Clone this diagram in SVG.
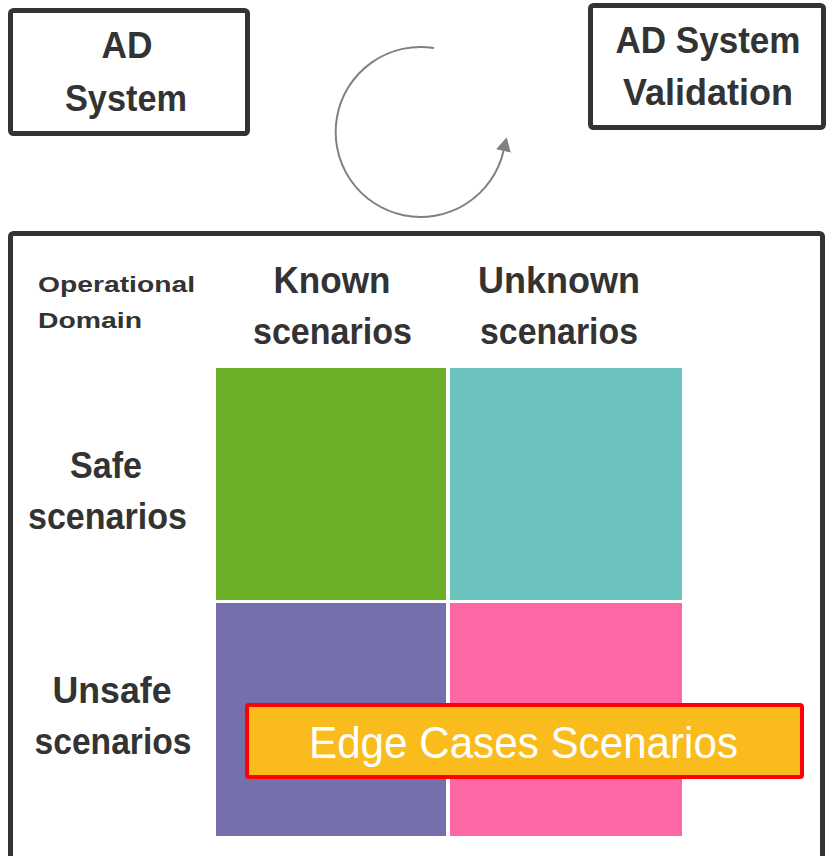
<svg xmlns="http://www.w3.org/2000/svg" width="826" height="856" viewBox="0 0 826 856">
  <style>
    .box { fill: #ffffff; stroke: #333333; stroke-width: 5; }
    .lbl { font-family: "Liberation Sans", Arial, sans-serif; font-weight: bold; fill: #333333; text-anchor: middle; }
    .big { font-size: 37px; }
    .small { font-size: 22px; text-anchor: start; }
    .edge { font-family: "Liberation Sans", Arial, sans-serif; font-size: 44px; fill: #ffffff; text-anchor: middle; }
  </style>
  <defs>
    <marker id="ah" markerUnits="userSpaceOnUse" markerWidth="16" markerHeight="16" refX="0" refY="7.5" orient="auto">
      <path d="M0,0 L14,7.5 L0,15 Z" fill="#808080"/>
    </marker>
  </defs>

  <g id="ad-system">
    <rect class="box" x="10.5" y="10.5" width="237" height="123" rx="3"/>
    <text class="lbl big" x="127" y="58" textLength="51" lengthAdjust="spacingAndGlyphs">AD</text>
    <text class="lbl big" x="126" y="111" textLength="122" lengthAdjust="spacingAndGlyphs">System</text>
  </g>

  <g id="ad-system-validation">
    <rect class="box" x="590.5" y="5.5" width="233" height="122" rx="3"/>
    <text class="lbl big" x="708" y="53" textLength="185" lengthAdjust="spacingAndGlyphs">AD System</text>
    <text class="lbl big" x="708" y="105" textLength="170" lengthAdjust="spacingAndGlyphs">Validation</text>
  </g>

  <g id="connectors">
    <path d="M434,48 A85,85 0 1 0 503.5,151" fill="none" stroke="#808080" stroke-width="2" marker-end="url(#ah)"/>
  </g>

  <g id="operational-domain">
    <rect class="box" x="10.5" y="233.5" width="812" height="700" rx="3"/>
    <text class="lbl small" x="38" y="292" textLength="157" lengthAdjust="spacingAndGlyphs">Operational</text>
    <text class="lbl small" x="38" y="328" textLength="104" lengthAdjust="spacingAndGlyphs">Domain</text>
  </g>

  <g id="col-known">
    <text class="lbl big" x="332" y="293" textLength="117" lengthAdjust="spacingAndGlyphs">Known</text>
    <text class="lbl big" x="332.5" y="344" textLength="159" lengthAdjust="spacingAndGlyphs">scenarios</text>
  </g>
  <g id="col-unknown">
    <text class="lbl big" x="559" y="293" textLength="162" lengthAdjust="spacingAndGlyphs">Unknown</text>
    <text class="lbl big" x="559" y="344" textLength="158" lengthAdjust="spacingAndGlyphs">scenarios</text>
  </g>
  <g id="row-safe">
    <text class="lbl big" x="106" y="478" textLength="72" lengthAdjust="spacingAndGlyphs">Safe</text>
    <text class="lbl big" x="107.5" y="529" textLength="159" lengthAdjust="spacingAndGlyphs">scenarios</text>
  </g>
  <g id="row-unsafe">
    <text class="lbl big" x="112" y="703" textLength="119" lengthAdjust="spacingAndGlyphs">Unsafe</text>
    <text class="lbl big" x="113" y="754" textLength="157" lengthAdjust="spacingAndGlyphs">scenarios</text>
  </g>

  <g id="cell-known-safe"><rect x="216" y="368" width="230" height="232" fill="#6BB026"/></g>
  <g id="cell-unknown-safe"><rect x="450" y="368" width="232" height="232" fill="#6BC1BB"/></g>
  <g id="cell-known-unsafe"><rect x="216" y="603" width="230" height="233" fill="#7570AC"/></g>
  <g id="cell-unknown-unsafe"><rect x="450" y="603" width="232" height="233" fill="#FF66A6"/></g>

  <g id="edge-cases">
    <rect x="247" y="705" width="555" height="72" rx="2" fill="#FABB1C" stroke="#FF0000" stroke-width="4"/>
    <text class="edge" x="523.5" y="758" textLength="429" lengthAdjust="spacingAndGlyphs">Edge Cases Scenarios</text>
  </g>
</svg>
